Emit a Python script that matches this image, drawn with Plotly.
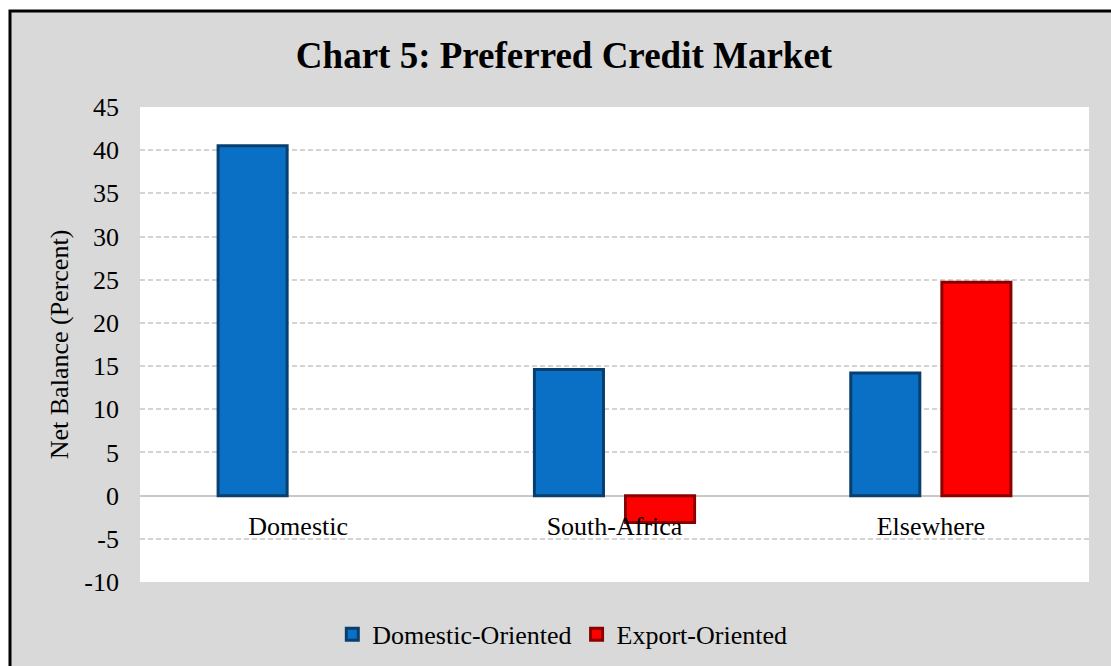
import plotly.graph_objects as go

categories = ["Domestic", "South-Africa", "Elsewhere"]
domestic_oriented = [40.5, 14.6, 14.2]
export_oriented = [None, -3.1, 24.7]
y_ticks = [-10, -5, 0, 5, 10, 15, 20, 25, 30, 35, 40, 45]
y_tick_labels = [str(v) for v in y_ticks]

FONT = "Liberation Serif, Times New Roman, serif"
FS = 26

fig = go.Figure()
fig.add_trace(go.Bar(
    name="Domestic-Oriented", x=categories, y=domestic_oriented,
    marker=dict(color="#0a70c6", line=dict(color="#083f6e", width=3)),
))
fig.add_trace(go.Bar(
    name="Export-Oriented", x=categories, y=export_oriented,
    marker=dict(color="#ff0000", line=dict(color="#8a0000", width=3)),
))

L, R, T, B = 140, 22, 107, 84
W, H = 1111, 666
pw, ph = W - L - R, H - T - B

# outer frame (gray background with black border on left/top)
fig.add_shape(type="rect", xref="paper", yref="paper",
              x0=(10 - L) / pw, x1=(W + 10 - L) / pw,
              y0=-(H + 10 - T - ph) / ph, y1=(T - 11) / ph + 1,
              fillcolor="#d9d9d9", line=dict(color="black", width=3), layer="below")
# white plot area
fig.add_shape(type="rect", xref="paper", yref="paper", x0=0, x1=1, y0=0, y1=1,
              fillcolor="white", line=dict(width=0), layer="below")

fig.update_layout(
    width=W, height=H,
    margin=dict(l=L, r=R, t=T, b=B, autoexpand=False),
    paper_bgcolor="white",
    plot_bgcolor="white",
    font=dict(family=FONT, size=FS, color="black"),
    title=dict(text="<b>Chart 5: Preferred Credit Market</b>",
               font=dict(family=FONT, size=37, color="black"),
               x=564 / W, xanchor="center", xref="container",
               y=1 - 55 / H, yanchor="middle", yref="container"),
    barmode="group",
    bargap=0.424,
    bargroupgap=0.242,
    showlegend=True,
    legend=dict(orientation="h", x=0.445, xanchor="center", y=-0.11, yanchor="middle",
                font=dict(family=FONT, size=FS), bgcolor="rgba(0,0,0,0)",
                itemwidth=30, traceorder="normal"),
    xaxis=dict(anchor="free", position=10 / 55, showgrid=False, showline=False,
               ticks="", ticklabelstandoff=12, tickfont=dict(family=FONT, size=FS)),
    yaxis=dict(range=[-10, 45], tickvals=y_ticks, ticktext=y_tick_labels, showgrid=True,
               gridcolor="#d4d4d4", griddash="5px,3px", gridwidth=1.5,
               zeroline=True, zerolinecolor="#c8c8c8", zerolinewidth=2,
               ticklabelstandoff=20, tickfont=dict(family=FONT, size=FS),
               title=dict(text="Net Balance (Percent)", font=dict(family=FONT, size=FS),
                          standoff=8)),
)

fig.write_html("out.html")
